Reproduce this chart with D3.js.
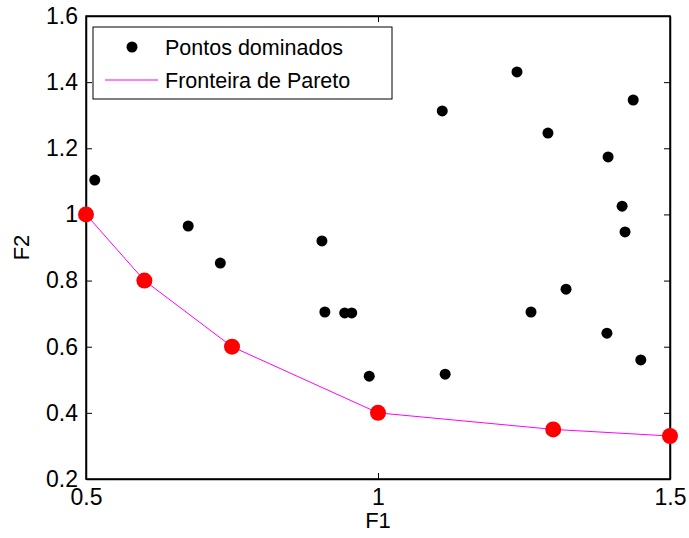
<!DOCTYPE html>
<html>
<head>
<meta charset="utf-8">
<script src="https://cdn.jsdelivr.net/npm/d3@7"></script>
<style>
  body { margin: 0; background: #fff; }
  text { font-family: "Liberation Sans", Arial, sans-serif; }
</style>
</head>
<body>
<div id="chart"></div>
<script>
// dominated points (F1, F2)
var domF1 = [0.515, 0.675, 0.730, 0.904, 0.909, 0.943, 0.955, 0.985, 1.115, 1.110,
             1.238, 1.291, 1.262, 1.322, 1.394, 1.418, 1.423, 1.437, 1.392, 1.450];
var domF2 = [1.104, 0.965, 0.853, 0.920, 0.705, 0.702, 0.702, 0.511, 0.517, 1.313,
             1.431, 1.246, 0.705, 0.774, 1.174, 1.025, 0.947, 1.346, 0.641, 0.560];

// pareto front
var paretoF1 = [0.5, 0.6, 0.75, 1.0, 1.3, 1.5];
var paretoF2 = [1.0, 0.8, 0.6, 0.4, 0.35, 0.33];

var xTicks = [0.5, 1, 1.5];
var yTicks = [0.2, 0.4, 0.6, 0.8, 1, 1.2, 1.4, 1.6];
var legendLabels = ["Pontos dominados", "Fronteira de Pareto"];

var W = 689, H = 538;
var margin = {top: 16, right: 19, bottom: 59, left: 86};
var width = W - margin.left - margin.right,
    height = H - margin.top - margin.bottom;

var svg = d3.select("#chart").append("svg")
  .attr("width", W).attr("height", H);
var g = svg.append("g")
  .attr("transform", "translate(" + margin.left + "," + margin.top + ")");

var x = d3.scaleLinear().domain([0.5, 1.5]).range([0, width]);
var y = d3.scaleLinear().domain([0.2, 1.6]).range([height, 0]);

var fmt = function(d) { return d3.format("")(+d.toFixed(1)); };

// axes, MATLAB style: inward ticks on all four sides
g.append("g")
  .attr("transform", "translate(0," + height + ")")
  .call(d3.axisBottom(x).tickValues(xTicks).tickSizeInner(-6).tickSizeOuter(0).tickPadding(10).tickFormat(fmt));
g.append("g")
  .call(d3.axisTop(x).tickValues(xTicks).tickSizeInner(-6).tickSizeOuter(0).tickFormat(""));
g.append("g")
  .call(d3.axisLeft(y).tickValues(yTicks).tickSizeInner(-6).tickSizeOuter(0).tickPadding(8).tickFormat(fmt));
g.append("g")
  .attr("transform", "translate(" + width + ",0)")
  .call(d3.axisRight(y).tickValues(yTicks).tickSizeInner(-6).tickSizeOuter(0).tickFormat(""));

g.selectAll(".domain").attr("stroke", "#000").attr("stroke-width", 1.5);
g.selectAll(".tick line").attr("stroke", "#000").attr("stroke-width", 1);
g.selectAll(".tick text").attr("font-size", 23).attr("fill", "#000")
  .attr("font-family", "Liberation Sans, Arial, sans-serif");

// box
g.append("rect")
  .attr("width", width).attr("height", height)
  .attr("fill", "none").attr("stroke", "#000").attr("stroke-width", 1.5);

// axis labels
svg.append("text")
  .attr("x", margin.left + width / 2).attr("y", 528)
  .attr("text-anchor", "middle").attr("font-size", 22).text("F1");
svg.append("text")
  .attr("transform", "translate(29," + (margin.top + height / 2) + ") rotate(-90)")
  .attr("text-anchor", "middle").attr("font-size", 22).text("F2");

// dominated points
g.selectAll(".dom")
  .data(domF1.map(function(d, i) { return [d, domF2[i]]; }))
  .enter().append("circle")
  .attr("cx", function(d) { return x(d[0]); })
  .attr("cy", function(d) { return y(d[1]); })
  .attr("r", 5.5)
  .attr("fill", "#000");

// pareto line and markers
var pareto = paretoF1.map(function(d, i) { return [d, paretoF2[i]]; });
g.append("path")
  .datum(pareto)
  .attr("d", d3.line().x(function(d) { return x(d[0]); }).y(function(d) { return y(d[1]); }))
  .attr("fill", "none").attr("stroke", "#ff00ff").attr("stroke-width", 1);
g.selectAll(".par")
  .data(pareto)
  .enter().append("circle")
  .attr("cx", function(d) { return x(d[0]); })
  .attr("cy", function(d) { return y(d[1]); })
  .attr("r", 8)
  .attr("fill", "#ff0000");

// legend
var lg = svg.append("g").attr("transform", "translate(93,27)");
lg.append("rect")
  .attr("width", 299).attr("height", 72)
  .attr("fill", "#fff").attr("stroke", "#000").attr("stroke-width", 1);
lg.append("circle").attr("cx", 39).attr("cy", 20).attr("r", 5.5).attr("fill", "#000");
lg.append("line").attr("x1", 12).attr("x2", 65).attr("y1", 53).attr("y2", 53)
  .attr("stroke", "#ff00ff").attr("stroke-width", 1);
lg.selectAll(".lt")
  .data(legendLabels)
  .enter().append("text")
  .attr("x", 72)
  .attr("y", function(d, i) { return 28 + i * 33; })
  .attr("font-size", 21.5)
  .text(function(d) { return d; });
</script>
</body>
</html>
